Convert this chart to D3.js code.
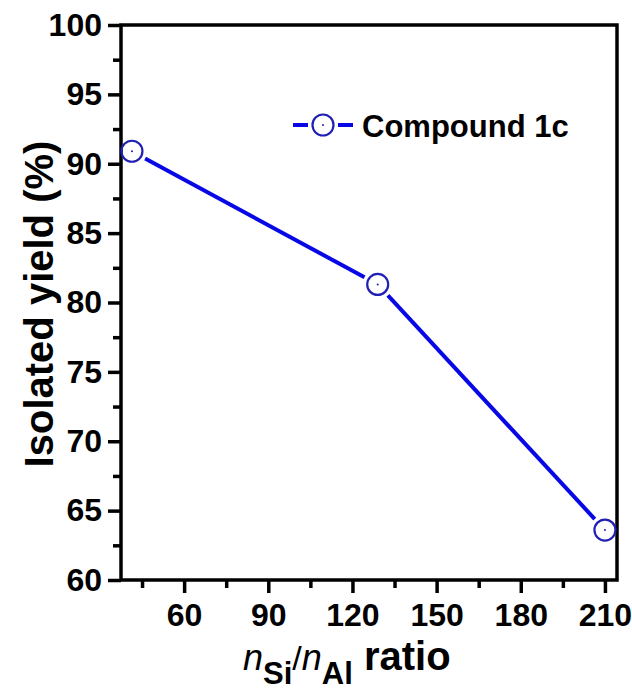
<!DOCTYPE html>
<html lang="en">
<head>
	<meta charset="UTF-8">
	<title>Isolated yield vs nSi/nAl ratio</title>
	<style>
		body { margin: 0; background: #fff; }
		svg { display: block; font-family: "Liberation Sans", Arial, sans-serif; font-weight: bold; }
	</style>
</head>
<body>
	<svg id="chart" width="632" height="695"></svg>
	<script src="https://cdn.jsdelivr.net/npm/d3@7"></script>
	<script>
		// data
		var ratios = [41.4, 129, 210];
		var yields = [90.9, 81.3, 63.6];
		var seriesName = "Compound 1c";
		var xTicks = [60, 90, 120, 150, 180, 210];
		var yTicks = [60, 65, 70, 75, 80, 85, 90, 95, 100];

		var W = 632, H = 695;
		var margin = {top: 25, right: 15, bottom: 115, left: 121};
		var lineColor = "#0808e6", markerColor = "#2020b4";

		var svg = d3.select("#chart");
		var g = svg.append("g").attr("transform", "translate(" + margin.left + "," + margin.top + ")");
		var w = W - margin.left - margin.right, h = H - margin.top - margin.bottom;

		var x = d3.scaleLinear().domain([37.5, 214.3]).range([0, w]);
		var y = d3.scaleLinear().domain([60, 100]).range([h, 0]);

		// minor ticks first, then major with labels
		var xMinor = d3.range(45, 215, 30);
		var yMinor = d3.range(62.5, 100, 5);

		g.append("g").attr("transform", "translate(0," + h + ")")
			.call(d3.axisBottom(x).tickValues(xMinor).tickSize(8).tickSizeOuter(0).tickFormat(""));
		g.append("g")
			.call(d3.axisLeft(y).tickValues(yMinor).tickSize(8).tickSizeOuter(0).tickFormat(""));

		g.append("g").attr("transform", "translate(0," + h + ")")
			.call(d3.axisBottom(x).tickValues(xTicks).tickSize(13).tickSizeOuter(0).tickPadding(10));
		g.append("g")
			.call(d3.axisLeft(y).tickValues(yTicks).tickSize(13).tickSizeOuter(0).tickPadding(6));

		g.selectAll(".domain").remove();
		g.selectAll(".tick line").attr("stroke", "#000").attr("stroke-width", 3.5);
		g.selectAll(".tick text").attr("fill", "#000")
			.style("font-size", "32px").style("font-family", "'Liberation Sans', Arial, sans-serif").style("font-weight", "bold");

		// frame
		g.append("rect").attr("width", w).attr("height", h)
			.attr("fill", "none").attr("stroke", "#000").attr("stroke-width", 3.5);

		// line with gaps around markers
		var pts = ratios.map(function(r, i) { return [x(r), y(yields[i])]; });
		var gap = 15;
		for (var i = 0; i < pts.length - 1; i++) {
			var a = pts[i], b = pts[i + 1];
			var dx = b[0] - a[0], dy = b[1] - a[1], len = Math.sqrt(dx * dx + dy * dy);
			var ux = dx / len, uy = dy / len;
			g.append("line")
				.attr("x1", a[0] + ux * gap).attr("y1", a[1] + uy * gap)
				.attr("x2", b[0] - ux * gap).attr("y2", b[1] - uy * gap)
				.attr("stroke", lineColor).attr("stroke-width", 4);
		}

		g.selectAll("circle.mk").data(pts).enter().append("circle")
			.attr("class", "mk")
			.attr("cx", function(d) { return d[0]; })
			.attr("cy", function(d) { return d[1]; })
			.attr("r", 10.5)
			.attr("fill", "none").attr("stroke", markerColor).attr("stroke-width", 2.2);
		g.selectAll("circle.dot").data(pts).enter().append("circle")
			.attr("class", "dot")
			.attr("cx", function(d) { return d[0]; })
			.attr("cy", function(d) { return d[1]; })
			.attr("r", 1).attr("fill", markerColor);

		// legend
		var lg = svg.append("g").attr("transform", "translate(323,125)");
		lg.append("line").attr("x1", -30).attr("x2", -gap).attr("stroke", lineColor).attr("stroke-width", 4);
		lg.append("line").attr("x1", gap).attr("x2", 30).attr("stroke", lineColor).attr("stroke-width", 4);
		lg.append("circle").attr("r", 10.5).attr("fill", "none").attr("stroke", markerColor).attr("stroke-width", 2.2);
		lg.append("circle").attr("r", 1).attr("fill", markerColor);
		lg.append("text").attr("x", 39).attr("y", 12).style("font-size", "31px").text(seriesName);

		// axis titles
		svg.append("text")
			.attr("transform", "translate(53,304) rotate(-90)")
			.attr("text-anchor", "middle")
			.style("font-size", "40px")
			.text("Isolated yield (%)");

		var xt = svg.append("text").attr("x", 243).attr("y", 670).style("font-size", "40px");
		xt.append("tspan").style("font-style", "italic").style("font-weight", "normal").style("font-size", "36px").text("n");
		xt.append("tspan").attr("dy", 14).style("font-size", "31px").text("Si");
		xt.append("tspan").attr("dy", -14).style("font-weight", "normal").style("font-size", "34px").text("/");
		xt.append("tspan").style("font-style", "italic").style("font-weight", "normal").style("font-size", "36px").text("n");
		xt.append("tspan").attr("dy", 14).style("font-size", "31px").text("Al");
		xt.append("tspan").attr("dy", -14).text(" ratio");
	</script>
</body>
</html>
